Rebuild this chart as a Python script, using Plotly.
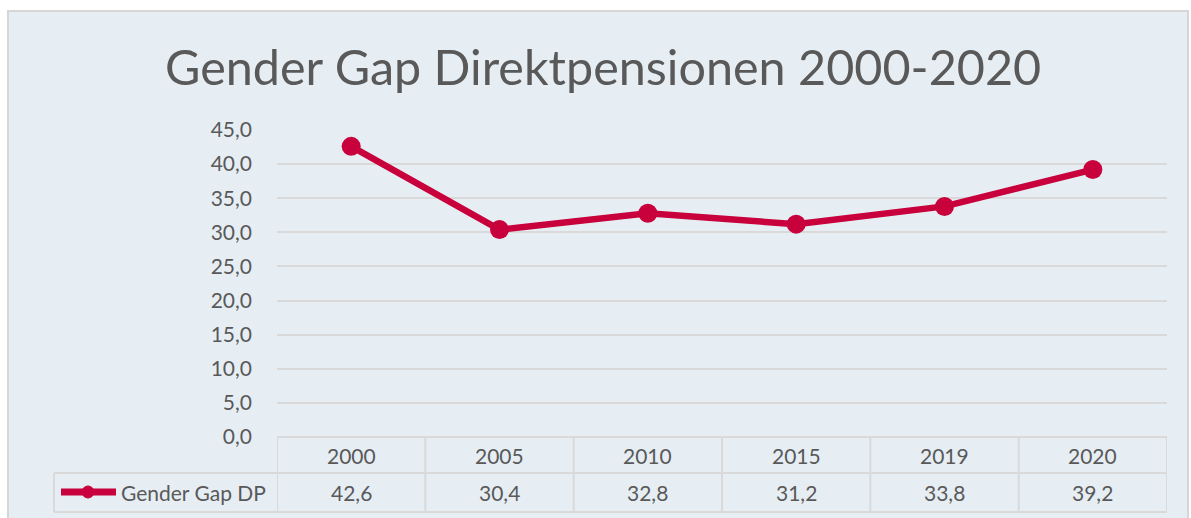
import plotly.graph_objects as go

categories = ["2000", "2005", "2010", "2015", "2019", "2020"]
values = [42.6, 30.4, 32.8, 31.2, 33.8, 39.2]
value_labels = ["42,6", "30,4", "32,8", "31,2", "33,8", "39,2"]
series_name = "Gender Gap DP"
title_text = "Gender Gap Direktpensionen 2000-2020"
y_ticks = [0, 5, 10, 15, 20, 25, 30, 35, 40, 45]

LINE = "#C8003C"
TEXT = "#595959"
GRID = "#D9D9D9"
BG = "#E6EEF4"
FONT = "Lato"

W, H = 1191, 518
L, R, T, B = 277, 1167, 130, 437
pw, ph = R - L, B - T


def px_x(p):
    return (p - L) / pw


def px_y(p):
    return (B - p) / ph


fig = go.Figure()
fig.add_trace(go.Scatter(
    x=categories, y=values, mode="lines+markers", name=series_name,
    line=dict(color=LINE, width=6.5),
    marker=dict(color=LINE, size=19),
    showlegend=False, cliponaxis=False,
))

shapes = []
# chart background
shapes.append(dict(type="rect", xref="paper", yref="paper", layer="below",
                   x0=px_x(8), x1=px_x(1188), y0=px_y(11), y1=px_y(530),
                   fillcolor=BG, line=dict(color="#D6D6D6", width=2)))
row1 = px_y(473)
row2 = px_y(512)
# table horizontal lines
shapes.append(dict(type="line", xref="paper", yref="paper", x0=0, x1=1, y0=0, y1=0,
                   line=dict(color=GRID, width=2)))
shapes.append(dict(type="line", xref="paper", yref="paper", x0=px_x(54), x1=1, y0=row1, y1=row1,
                   line=dict(color=GRID, width=2)))
shapes.append(dict(type="line", xref="paper", yref="paper", x0=px_x(54), x1=1, y0=row2, y1=row2,
                   line=dict(color=GRID, width=2)))
shapes.append(dict(type="line", xref="paper", yref="paper", x0=px_x(54), x1=px_x(54), y0=row1, y1=row2,
                   line=dict(color=GRID, width=2)))
# column separators in table
n = len(categories)
for i in range(n + 1):
    xv = i - 0.5
    shapes.append(dict(type="line", xref="x", yref="paper", x0=xv, x1=xv, y0=0, y1=row2,
                       line=dict(color=GRID, width=2)))
# legend key
ly = px_y(492)
shapes.append(dict(type="line", xref="paper", yref="paper", x0=px_x(61), x1=px_x(116), y0=ly, y1=ly,
                   line=dict(color=LINE, width=7)))
shapes.append(dict(type="circle", xref="paper", yref="paper",
                   x0=px_x(82), x1=px_x(94), y0=px_y(486), y1=px_y(498),
                   fillcolor=LINE, line=dict(color=LINE, width=1)))

annotations = []
for i, (c, v) in enumerate(zip(categories, value_labels)):
    annotations.append(dict(x=i, xref="x", y=px_y(455), yref="paper", text=c, showarrow=False,
                            xanchor="center", yanchor="middle",
                            font=dict(family=FONT, size=21, color=TEXT)))
    annotations.append(dict(x=i, xref="x", y=px_y(492), yref="paper", text=v, showarrow=False,
                            xanchor="center", yanchor="middle",
                            font=dict(family=FONT, size=21, color=TEXT)))
annotations.append(dict(x=px_x(119), xref="paper", y=px_y(492), yref="paper", text=series_name,
                        xanchor="left", yanchor="middle", showarrow=False,
                        font=dict(family=FONT, size=21, color=TEXT)))
annotations.append(dict(x=px_x(603), xref="paper", y=px_y(66), yref="paper", text=title_text,
                        xanchor="center", yanchor="middle", showarrow=False,
                        font=dict(family=FONT, size=48.5, color=TEXT)))

fig.update_layout(
    width=W, height=H,
    margin=dict(l=L, r=W - R, t=T, b=H - B, pad=0),
    paper_bgcolor="white", plot_bgcolor="rgba(0,0,0,0)",
    separators=",.",
    shapes=shapes, annotations=annotations,
    xaxis=dict(type="category", range=[-0.5, n - 0.5], showticklabels=False, showgrid=False,
               zeroline=False, showline=False, ticks=""),
    yaxis=dict(range=[0, 45], tickvals=y_ticks, tickformat=".1f", showgrid=True, gridcolor=GRID,
               gridwidth=2, zeroline=False, showline=False, ticks="",
               ticklabelstandoff=24,
               tickfont=dict(family=FONT, size=21, color=TEXT)),
)

fig.write_html("out.html", config={"displayModeBar": False},
               post_script="document.body.style.margin='0';document.body.style.overflow='hidden';")
